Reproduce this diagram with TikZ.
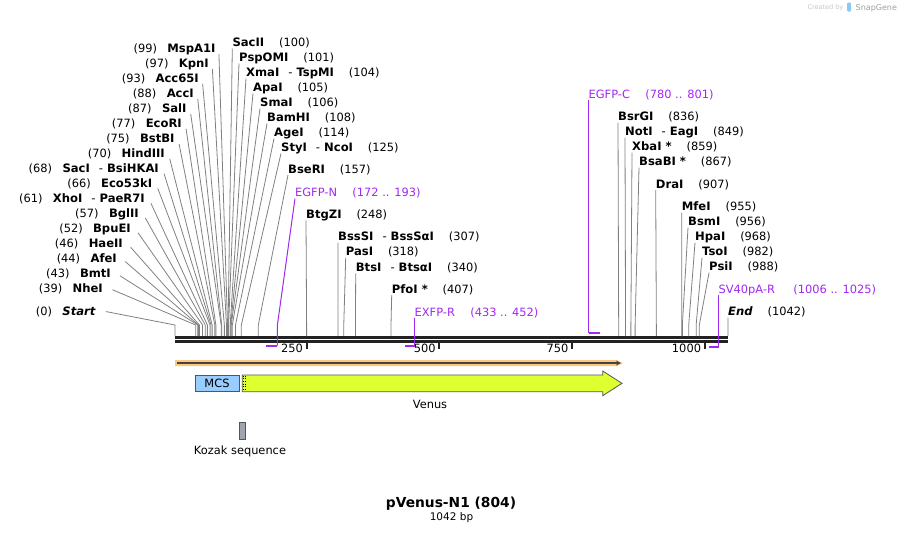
\documentclass[tikz,border=0pt]{standalone}
\usepackage{fontspec}
\setmainfont{DejaVu Sans}
\usetikzlibrary{calc}
\definecolor{cutgray}{RGB}{128,128,128}
\definecolor{seqdark}{RGB}{34,34,34}
\definecolor{primerpurple}{RGB}{160,40,240}
\definecolor{outline}{RGB}{85,85,85}
\definecolor{venusgreen}{RGB}{222,255,48}
\definecolor{mcsblue}{RGB}{153,204,255}
\definecolor{bandorange}{RGB}{252,200,128}
\definecolor{kozakgray}{RGB}{160,165,172}
\definecolor{logoblue}{RGB}{140,200,245}
\newcommand\dsh{\hspace{9pt}{\mdseries -}\hspace{4pt}}

\begin{document}
\begin{tikzpicture}[x=1pt, y=-1pt, >=stealth,
  site/.style={font=\fontsize{11.6}{13}\selectfont\bfseries, inner sep=0pt},
  bpnum/.style={font=\fontsize{11.4}{13}\selectfont, inner sep=0pt},
  cutline/.style={cutgray, line width=0.8pt},
  primer/.style={primerpurple, line width=1pt},
  primerbar/.style={primerpurple, line width=2pt},
  primertxt/.style={bpnum, text=primerpurple}]
\useasboundingbox (0,0) rectangle (904,533);

\node[font=\fontsize{6.5}{7}\selectfont, text=gray!45, anchor=base east, inner sep=0pt] (created) at (843.5,9.5) {Created by};
\fill[logoblue, rounded corners=1pt] (847,2.5) rectangle (851,11.5);
\node[font=\fontsize{8}{9}\selectfont, text=gray!75, anchor=base west, inner sep=0pt] (snapgene) at (855.5,10) {SnapGene};

% sequence
\draw[line width=2.7pt, seqdark] (175,337.3) -- (728,337.3);
\draw[line width=2.7pt, seqdark] (175,341.3) -- (728,341.3);
\foreach \t in {250,500,750,1000} {
  \coordinate (t\t) at ({174+0.5307*\t},341);
  \draw[line width=1.8pt, seqdark] (t\t) -- ++(0,8);
  \node[bpnum, anchor=base east] (tl\t) at ([xshift=-3.5pt, yshift=-11.7pt]t\t) {\t};
}

% cut sites, left side
\foreach \nm/\bp/\xx/\yy [count=\i] in {
  MspA1I/99/215.7/52.5, KpnI/97/209/67.5, Acc65I/93/199/82.5,
  AccI/88/194/97.5, SalI/87/186.7/112.5, EcoRI/77/182/127.5,
  BstBI/75/174.7/142.5, HindIII/70/165/157.5, SacI\dsh BsiHKAI/68/159/172.5,
  Eco53kI/66/152.3/187.5, XhoI\dsh PaeR7I/61/145/202.5, BglII/57/139/217.5,
  BpuEI/52/131/232.5, HaeII/46/123/247.5, AfeI/44/117/262.5,
  BmtI/43/111/277.5, NheI/39/103/292.5, \textit{Start}/0/96/315.7} {
  \node[site, anchor=base east] (L\i) at (\xx,\yy) {\nm};
  \node[bpnum, anchor=base east] (Ln\i) at ([xshift=-10pt]L\i.base west) {(\bp)};
  \coordinate (Lb\i) at ({175+0.5307*\bp},336);
  \coordinate (Lc\i) at ({175+0.5307*\bp},325);
  \draw[cutline, shorten >=7pt] (Lb\i) -- (Lc\i) -- ($(L\i.base east)+(3,-5.5)$);
}

% cut sites, right side
\foreach \nm/\bp/\xx/\yy [count=\i] in {
  SacII/100/232.3/46.5, PspOMI/101/239/61.5, XmaI\dsh TspMI/104/246/76.5,
  ApaI/105/253/91.5, SmaI/106/260/106.5, BamHI/108/267/121.5,
  AgeI/114/274/136.5, StyI\dsh NcoI/125/281/151.5, BseRI/157/288/173,
  BtgZI/248/306/218.3, BssSI\dsh BssSαI/307/338/240.7, PasI/318/345.7/255.7,
  BtsI\dsh BtsαI/340/355.7/271.3, PfoI */407/391.7/293,
  BsrGI/836/618/120.7, NotI\dsh EagI/849/625/135.7, XbaI */859/632/150.7,
  BsaBI */867/639/165.7, DraI/907/655.7/188, MfeI/955/681.7/210.7,
  BsmI/956/688/225.7, HpaI/968/695/240.7, TsoI/982/702/255.7,
  PsiI/988/709/270.7, \textit{End}/1042/728/315.7} {
  \node[site, anchor=base west] (R\i) at (\xx,\yy) {\nm};
  \node[bpnum, anchor=base west] (Rn\i) at ([xshift=14.5pt]R\i.base east) {(\bp)};
  \coordinate (Rb\i) at ({175+0.5307*\bp},336);
  \coordinate (Rc\i) at ({175+0.5307*\bp},325);
  \draw[cutline] (Rb\i) -- (Rc\i) -- ([yshift=-2pt]R\i.base west);
}

% primers
\node[primertxt, anchor=base west] (egfpn) at (295,196.5) {EGFP-N};
\node[primertxt, anchor=base west] (egfpnr) at ([xshift=15pt]egfpn.base east) {(172 .. 193)};
\coordinate (egfpnA) at (266.3,345.5);
\coordinate (egfpnB) at (277.4,345.5);
\draw[primer] (egfpnB) -- (277.4,325) -- ([yshift=-2pt]egfpn.base west);
\draw[primerbar] (egfpnA) -- (egfpnB);

\node[primertxt, anchor=base west] (exfpr) at (414.5,316.3) {EXFP-R};
\node[primertxt, anchor=base west] (exfprr) at ([xshift=15pt]exfpr.base east) {(433 .. 452)};
\coordinate (exfprA) at (404.8,346);
\coordinate (exfprB) at (414.5,346);
\draw[primer] (exfprB) -- ([yshift=-2pt]exfpr.base west);
\draw[primerbar] (exfprA) -- (exfprB);

\node[primertxt, anchor=base west] (egfpc) at (588.5,98) {EGFP-C};
\node[primertxt, anchor=base west] (egfpcr) at ([xshift=15pt]egfpc.base east) {(780 .. 801)};
\coordinate (egfpcA) at (588.5,332.5);
\coordinate (egfpcB) at (600,332.5);
\draw[primer] (egfpcA) -- ([yshift=-2pt]egfpc.base west);
\draw[primerbar] (egfpcA) -- (egfpcB);

\node[primertxt, anchor=base west] (sv40) at (718.5,293.3) {SV40pA-R};
\node[primertxt, anchor=base west] (sv40r) at ([xshift=18pt]sv40.base east) {(1006 .. 1025)};
\coordinate (sv40A) at (708.9,346.5);
\coordinate (sv40B) at (718.5,346.5);
\draw[primer] (sv40B) -- ([yshift=-2pt]sv40.base west);
\draw[primerbar] (sv40A) -- (sv40B);

% features
\fill[bandorange] (175,360) -- (617,360) -- (623,363) -- (617,366) -- (175,366) -- cycle;
\draw[->, seqdark!85, line width=1.2pt] (177,363) -- (621,363);

\node[bpnum, draw=outline, line width=0.8pt, fill=mcsblue, minimum width=44pt, minimum height=16.7pt] (mcs) at (217,383.3) {MCS};
\draw[outline, fill=venusgreen, line width=0.8pt] (242.3,375) -- (602.7,375) -- (602.7,371) -- (622,383.3) -- (602.7,395.7) -- (602.7,391.7) -- (242.3,391.7) -- cycle;
\draw[black, dotted, line width=0.7pt] (243.3,375.5) -- (243.3,391.2);
\draw[black, dotted, line width=0.7pt] (245.3,375.5) -- (245.3,391.2);
\node[bpnum, anchor=base] (venus) at (430,408) {Venus};

\node[draw=outline, line width=0.8pt, fill=kozakgray, minimum width=6pt, minimum height=16.7pt, inner sep=0pt] (kozak) at (242,430.7) {};
\node[bpnum, anchor=base] (kozaktxt) at (240,454.5) {Kozak sequence};

\node[font=\fontsize{13.8}{15}\selectfont\bfseries, anchor=base, inner sep=0pt] (title) at (451,507) {pVenus-N1 (804)};
\node[font=\fontsize{10.5}{12}\selectfont, anchor=base, inner sep=0pt] (len) at (451.5,520) {1042 bp};
\end{tikzpicture}
\end{document}
